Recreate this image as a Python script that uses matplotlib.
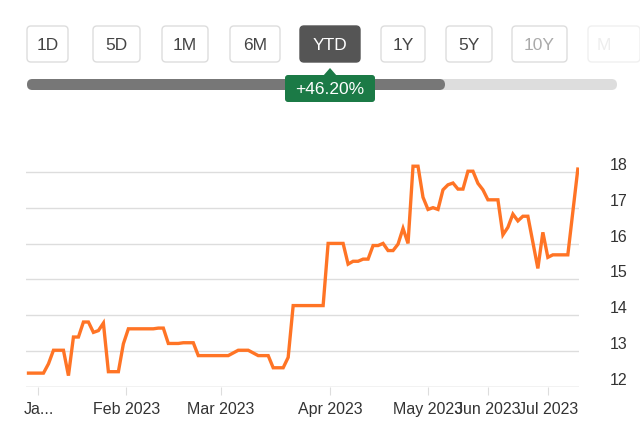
import matplotlib.pyplot as plt
from matplotlib.patches import FancyBboxPatch, Polygon

plt.rcParams["font.family"] = "Liberation Sans"

# trading-day index and close price
idx = [0, 3, 4, 5, 7, 8, 9, 10, 11, 12, 13, 14, 15, 16, 18, 19, 20, 25, 26, 27, 28, 30, 31, 33, 34,
       40, 42, 44, 46, 48, 49, 51, 52, 53, 59, 60, 63, 64, 65, 66, 67, 68, 69, 70, 71, 72, 73, 74,
       75, 76, 77, 78, 79, 80, 81, 82, 83, 84, 85, 86, 87, 88, 89, 90, 91, 92, 94, 95, 96, 97, 98,
       99, 100, 102, 103, 104, 105, 106, 108, 110]
price = [12.38, 12.38, 12.64, 13.02, 13.02, 12.31, 13.39, 13.39, 13.81, 13.81, 13.52, 13.57, 13.78,
         12.42, 12.42, 13.20, 13.62, 13.62, 13.64, 13.64, 13.21, 13.21, 13.23, 13.23, 12.87,
         12.87, 13.02, 13.02, 12.87, 12.87, 12.53, 12.53, 12.82, 14.27, 14.27, 16.01, 16.01, 15.43,
         15.51, 15.51, 15.57, 15.57, 15.95, 15.95, 16.01, 15.81, 15.81, 15.99, 16.43, 16.01, 18.17,
         18.17, 17.30, 16.96, 17.01, 16.96, 17.51, 17.65, 17.70, 17.53, 17.53, 18.03, 18.03, 17.69,
         17.51, 17.23, 17.23, 16.25, 16.46, 16.83, 16.64, 16.77, 16.77, 15.31, 16.32, 15.62, 15.69,
         15.69, 15.69, 18.09]
tick_pos = [2, 19.6, 38.5, 60.4, 80, 92, 104]
tick_lab = ["Ja...", "Feb 2023", "Mar 2023", "Apr 2023", "May 2023", "Jun 2023", "Jul 2023"]
y_ticks = [12, 13, 14, 15, 16, 17, 18]
buttons = ["1D", "5D", "1M", "6M", "YTD", "1Y", "5Y", "10Y", "M"]
btn_x = [(27, 68), (93, 140), (162, 208), (230, 280), (300, 360), (381, 425), (446, 492), (512, 567), (588, 640)]
change = "+46.20%"

fig = plt.figure(figsize=(6.4, 4.39), dpi=100)

# top controls drawn in pixel space
ui = fig.add_axes([0, 0, 1, 1])
ui.set_xlim(0, 640)
ui.set_ylim(439, 0)
ui.axis("off")
for lab, (x0, x1) in zip(buttons, btn_x):
    sel = lab == "YTD"
    faded = lab in ("10Y", "M")
    ui.add_patch(FancyBboxPatch((x0, 27), x1 - x0, 36, boxstyle="round,pad=0,rounding_size=4",
                                fc="#555555" if sel else "white",
                                ec="#555555" if sel else ("#f0f0f0" if lab == "M" else "#dddddd"), lw=1))
    col = "white" if sel else ("#eeeeee" if lab == "M" else ("#aaaaaa" if faded else "#444444"))
    ui.text(x0 + 16 if lab == "M" else (x0 + x1) / 2, 45, lab, ha="center", va="center", fontsize=12.5, color=col)
ui.add_patch(FancyBboxPatch((27, 80), 590, 11, boxstyle="round,pad=0,rounding_size=5.5", fc="#dddddd", ec="none"))
ui.add_patch(FancyBboxPatch((27, 80), 418, 11, boxstyle="round,pad=0,rounding_size=5.5", fc="#777777", ec="none"))
ui.add_patch(FancyBboxPatch((285, 76), 90, 27, boxstyle="round,pad=0,rounding_size=3", fc="#1b7a46", ec="none"))
ui.add_patch(Polygon([(323, 77), (330, 69), (337, 77)], closed=True, fc="#1b7a46", ec="none"))
ui.text(330, 90, change, ha="center", va="center", fontsize=12.5, color="white")

ax = fig.add_axes([0.0414, 1 - 387.7 / 439, 0.863, (387.7 - 159) / 439])
ax.plot(idx, price, color="#ff7425", lw=2.4, solid_joinstyle="miter")
ax.set_xlim(-0.4, 110.2)
ax.set_ylim(12, 18.4)
ax.set_yticks(y_ticks)
ax.yaxis.tick_right()
ax.set_yticklabels([str(v) for v in y_ticks], va="bottom")
ax.tick_params(axis="y", length=0, pad=22, labelsize=11.5, labelcolor="#333333")
ax.set_xticks(tick_pos)
ax.set_xticklabels(tick_lab)
ax.tick_params(axis="x", length=6, color="#dddddd", labelsize=11.5, labelcolor="#333333", pad=4)
ax.grid(axis="y", color="#dddddd", lw=1)
for s in ax.spines.values():
    s.set_visible(False)
ax.axhline(12, color="#dddddd", lw=1)

fig.savefig("out.png", dpi=100)
